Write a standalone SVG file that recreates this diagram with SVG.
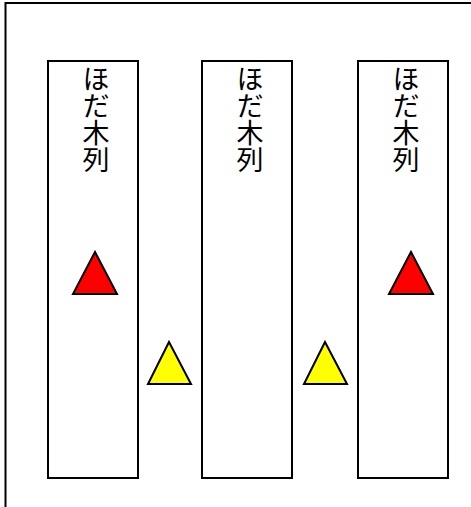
<svg xmlns="http://www.w3.org/2000/svg" width="471" height="507" viewBox="0 0 471 507">
<style>
.frame{fill:#fff;stroke:#000;stroke-width:2}
.col{fill:#fff;stroke:#000;stroke-width:2}
.lbl{font-family:"Noto Sans CJK JP","Noto Sans",sans-serif;font-size:27px;fill:#000;writing-mode:vertical-rl}
.red{fill:#ff0000;stroke:#000;stroke-width:2}
.yel{fill:#ffff00;stroke:#000;stroke-width:2}
</style>
<rect width="471" height="507" fill="#fff"/>
<rect class="frame" x="5.5" y="3" width="475" height="520"/>
<g id="col1">
<rect class="col" x="48" y="61" width="90" height="417"/>
<text class="lbl" x="96" y="65">ほだ木列</text>
</g>
<g id="col2">
<rect class="col" x="202" y="61" width="90" height="417"/>
<text class="lbl" x="250" y="65">ほだ木列</text>
</g>
<g id="col3">
<rect class="col" x="358" y="61" width="90" height="417"/>
<text class="lbl" x="406" y="65">ほだ木列</text>
</g>
<g id="red1"><polygon class="red" points="95,252 117,294 73,294"/></g>
<g id="red2"><polygon class="red" points="411,252 433,294 389,294"/></g>
<g id="yel1"><polygon class="yel" points="169,342 191,384 148,384"/></g>
<g id="yel2"><polygon class="yel" points="325,342 347,384 304,384"/></g>
<g id="connectors"></g>
</svg>
